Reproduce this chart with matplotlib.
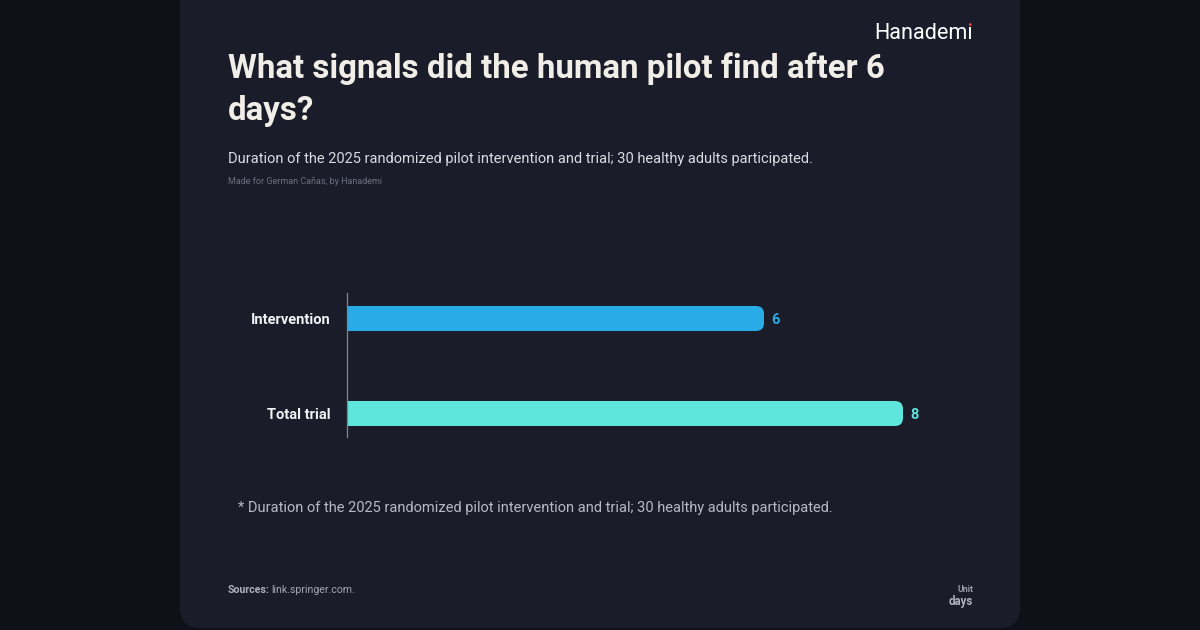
import matplotlib
matplotlib.use("Agg")
import matplotlib.pyplot as plt
from matplotlib.patches import FancyBboxPatch, Ellipse

# ---- data ----
categories = ["Intervention", "Total trial"]
values = [6, 8]
bar_colors = ["#29abe8", "#5ee5dc"]
title_lines = ["What signals did the human pilot find after 6", "days?"]
subtitle = "Duration of the 2025 randomized pilot intervention and trial; 30 healthy adults participated."
credit = "Made for German Cañas, by Hanademi"
footnote = "* Duration of the 2025 randomized pilot intervention and trial; 30 healthy adults participated."
source_label = "Sources:"
source_text = "link.springer.com."
unit_label = "Unit"
unit_value = "days"
brand = "Hanademı"  # final dotless i; its dot is drawn in red below

FONT = ["Roboto", "DejaVu Sans"]
plt.rcParams["font.family"] = FONT

W, H = 1200, 630
fig = plt.figure(figsize=(W / 100, H / 100), dpi=100)
fig.patch.set_facecolor("#0e1118")

def fx(px):
    return px / W

def fy(py):
    return 1 - py / H

# card
card = FancyBboxPatch((fx(180), fy(628)), fx(840), (628 + 30) / H,
                      boxstyle="round,pad=0,rounding_size=0.0167",
                      mutation_aspect=W / H,
                      transform=fig.transFigure, facecolor="#1a1d29",
                      edgecolor="none", zorder=-5)
fig.patches.append(card)

# texts
fig.text(fx(228), fy(78), title_lines[0], fontsize=23.8, fontweight="bold",
         color="#f1eee8", va="baseline", ha="left")
fig.text(fx(228), fy(120), title_lines[1], fontsize=23.8, fontweight="bold",
         color="#f1eee8", va="baseline", ha="left")
fig.text(fx(228), fy(163), subtitle, fontsize=10.5, color="#d9dbe2",
         va="baseline", ha="left")
fig.text(fx(228), fy(184), credit, fontsize=6.5, color="#6b707e",
         va="baseline", ha="left")
fig.text(fx(238), fy(512), footnote, fontsize=10.5, color="#b7bac5",
         va="baseline", ha="left")
t = fig.text(fx(228), fy(593), source_label, fontsize=7.6, fontweight="bold",
             color="#aeb2be", va="baseline", ha="left")
fig.canvas.draw()
renderer = fig.canvas.get_renderer()
bb = t.get_window_extent(renderer)
fig.text((bb.x1 + 2) / W, fy(593), source_text, fontsize=7.6, color="#a3a7b3",
         va="baseline", ha="left")
fig.text(fx(973), fy(592), unit_label, fontsize=6.3, fontweight="bold",
         color="#9a9eaa", va="baseline", ha="right")
fig.text(fx(973), fy(605), unit_value, fontsize=8.3, fontweight="bold",
         color="#aeb2be", va="baseline", ha="right")
bt = fig.text(fx(973), fy(39), brand, fontsize=15.6, color="#ffffff",
              va="baseline", ha="right")
# measure the last glyph to place the red dot above it
tmp = fig.text(0, 0, brand[-1], fontsize=15.6)
adv = tmp.get_window_extent(renderer).width
tmp.remove()
dot_cx = 973 - adv / 2
dot = Ellipse((fx(dot_cx), fy(24.5)), width=2.8 / W, height=2.8 / H,
              transform=fig.transFigure, facecolor="#e8463a", edgecolor="none", zorder=5)
fig.patches.append(dot)

# axes
px_per_unit = 69.5
xmax = 9
ax_left, ax_top, ax_bot = 347, 293, 437
ax = fig.add_axes([fx(ax_left), fy(ax_bot), xmax * px_per_unit / W, (ax_bot - ax_top) / H])
ax.set_facecolor("none")
ax.set_xlim(0, xmax)
ax.set_ylim(1 + (ax_bot - 413.5) / 95, 0 - (318.5 - ax_top) / 95)
bar_h = 25 / 95
ypos = list(range(len(categories)))
bars = ax.barh(ypos, values, height=bar_h, color=bar_colors, zorder=2)
# rounded right ends (radius ~8px)
r_x = 8 / px_per_unit
aspect = (1 / 95) / (1 / px_per_unit)
for rect in bars:
    x0, y0 = rect.get_x(), rect.get_y()
    w, h = rect.get_width(), rect.get_height()
    clip = FancyBboxPatch((x0 - 1, y0), w + 1, h,
                          boxstyle=f"round,pad=0,rounding_size={r_x}",
                          mutation_aspect=aspect, transform=ax.transData)
    rect.set_clip_path(clip)

for y, v, c in zip(ypos, values, bar_colors):
    ax.annotate(f"{v}", (v, y), xytext=(5.5, 0), textcoords="offset points",
                va="center_baseline", ha="left", fontsize=10.5, fontweight="bold", color=c)

ax.set_yticks(ypos)
ax.set_yticklabels(categories, fontsize=10.5, fontweight="bold", color="#f1f2f5")
ax.tick_params(axis="y", length=0, pad=12)
ax.set_xticks([])
for s in ["top", "right", "bottom"]:
    ax.spines[s].set_visible(False)
ax.spines["left"].set_color("#80858f")
ax.spines["left"].set_linewidth(0.9)

fig.savefig("out.png", dpi=100, facecolor=fig.get_facecolor())
